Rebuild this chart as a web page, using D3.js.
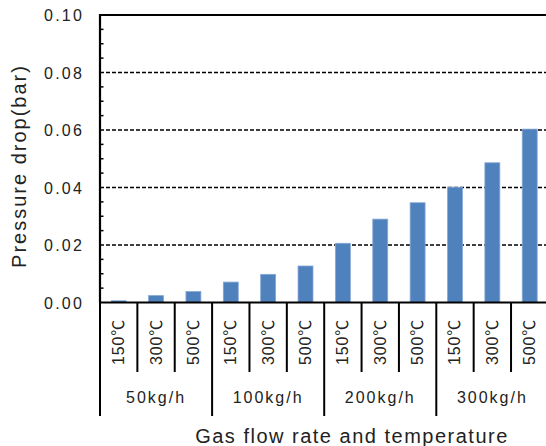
<!DOCTYPE html>
<html>
<head>
<meta charset="utf-8">
<script src="https://cdn.jsdelivr.net/npm/d3@7"></script>
<style>
  html, body { margin: 0; padding: 0; background: #fff; }
  svg { display: block; }
  text { font-family: "Liberation Sans", Arial, "Noto Sans CJK KR", sans-serif; fill: #222; }
</style>
</head>
<body>
<svg id="chart" width="546" height="446"></svg>
<script>
// Flow-rate groups and the temperatures measured within each group
const flowRates = ["50kg/h", "100kg/h", "200kg/h", "300kg/h"];
const temperatures = ["150℃", "300℃", "500℃"];

// Pressure drop (bar) per temperature, one array per flow rate
const drop50 = [0.0006, 0.0024, 0.0038];
const drop100 = [0.0071, 0.0098, 0.0127];
const drop200 = [0.0206, 0.0290, 0.0347];
const drop300 = [0.0401, 0.0486, 0.0603];

const yTicks = [0.00, 0.02, 0.04, 0.06, 0.08, 0.10];
const yMinorStep = 0.005;

const series = [drop50, drop100, drop200, drop300];
const rows = [];
flowRates.forEach((f, gi) => {
  temperatures.forEach((t, ti) => {
    rows.push({ key: f + "|" + t, flow: f, temp: t, value: series[gi][ti], gi, ti });
  });
});

const svg = d3.select("#chart");
const plotLeft = 100, plotRight = 548.4, plotTop = 15, plotBottom = 302.5;

const x = d3.scaleBand()
  .domain(rows.map(d => d.key))
  .range([plotLeft, plotRight])
  .paddingInner(0.6)
  .paddingOuter(0.3);
const step = x.step();

const y = d3.scaleLinear().domain([0, 0.10]).range([plotBottom, plotTop]);

// dashed horizontal gridlines
svg.append("g").selectAll("line")
  .data(yTicks.filter(v => v > 0 && v < 0.10))
  .join("line")
  .attr("x1", plotLeft).attr("x2", 546)
  .attr("y1", d => y(d)).attr("y2", d => y(d))
  .attr("stroke", "#000").attr("stroke-width", 1.4)
  .attr("stroke-dasharray", "4,2");

// bars
svg.append("g").selectAll("rect")
  .data(rows)
  .join("rect")
  .attr("x", d => x(d.key))
  .attr("width", x.bandwidth())
  .attr("y", d => y(d.value))
  .attr("height", d => y(0) - y(d.value))
  .attr("fill", "#4F81BD")
  .attr("stroke", "#86a8d6")
  .attr("stroke-width", 0.8);

// top frame line
svg.append("line")
  .attr("x1", plotLeft).attr("x2", 546)
  .attr("y1", y(0.10)).attr("y2", y(0.10))
  .attr("stroke", "#000").attr("stroke-width", 2);

// y axis with minor ticks on the inside
const yAxis = d3.axisLeft(y).tickValues(yTicks).tickSize(0).tickPadding(0)
  .tickFormat(d3.format(".2f"));
const yg = svg.append("g").attr("transform", `translate(${plotLeft},0)`).call(yAxis);
yg.select(".domain").remove();
yg.selectAll("text")
  .attr("x", -16)
  .attr("dy", "0.35em")
  .style("font-size", "16px")
  .style("letter-spacing", "2.2px")
  .attr("fill", "#222");

const minor = d3.range(0, 0.1 + 1e-9, yMinorStep).filter(v => Math.abs(v / 0.02 - Math.round(v / 0.02)) > 1e-6);
svg.append("g").selectAll("line")
  .data(minor)
  .join("line")
  .attr("x1", plotLeft).attr("x2", plotLeft + 3.5)
  .attr("y1", d => y(d)).attr("y2", d => y(d))
  .attr("stroke", "#000").attr("stroke-width", 1.5);

svg.append("line")
  .attr("x1", plotLeft).attr("x2", plotLeft)
  .attr("y1", plotTop - 1).attr("y2", plotBottom)
  .attr("stroke", "#000").attr("stroke-width", 2.2);

// x axis baseline
svg.append("line")
  .attr("x1", plotLeft - 1).attr("x2", 546)
  .attr("y1", plotBottom).attr("y2", plotBottom)
  .attr("stroke", "#000").attr("stroke-width", 2.2);

// separators between categories; group boundaries run further down
const boundaries = d3.range(0, rows.length + 1).map(i => ({
  x: plotLeft + i * step,
  group: i % temperatures.length === 0
}));
svg.append("g").selectAll("line")
  .data(boundaries)
  .join("line")
  .attr("x1", d => d.x).attr("x2", d => d.x)
  .attr("y1", plotBottom).attr("y2", d => d.group ? 416 : 372)
  .attr("stroke", "#000").attr("stroke-width", 2);

// rotated temperature labels
svg.append("g").selectAll("text")
  .data(rows)
  .join("text")
  .attr("transform", d => `translate(${x(d.key) + x.bandwidth() / 2},342) rotate(-90)`)
  .attr("text-anchor", "middle")
  .attr("dominant-baseline", "central")
  .style("font-size", "16px")
  .style("letter-spacing", "0.8px")
  .text(d => d.temp);

// flow-rate group labels
svg.append("g").selectAll("text")
  .data(flowRates)
  .join("text")
  .attr("x", (d, i) => plotLeft + (i + 0.5) * step * temperatures.length)
  .attr("y", 403)
  .attr("text-anchor", "middle")
  .style("font-size", "16px")
  .style("letter-spacing", "2px")
  .text(d => d);

// axis titles
svg.append("text")
  .attr("x", 352).attr("y", 443)
  .attr("text-anchor", "middle")
  .style("font-size", "20px")
  .style("letter-spacing", "1.5px")
  .text("Gas flow rate and temperature");

svg.append("text")
  .attr("transform", "translate(19,166) rotate(-90)")
  .attr("text-anchor", "middle")
  .attr("dominant-baseline", "central")
  .style("font-size", "20px")
  .style("letter-spacing", "2px")
  .text("Pressure drop(bar)");
</script>
</body>
</html>
